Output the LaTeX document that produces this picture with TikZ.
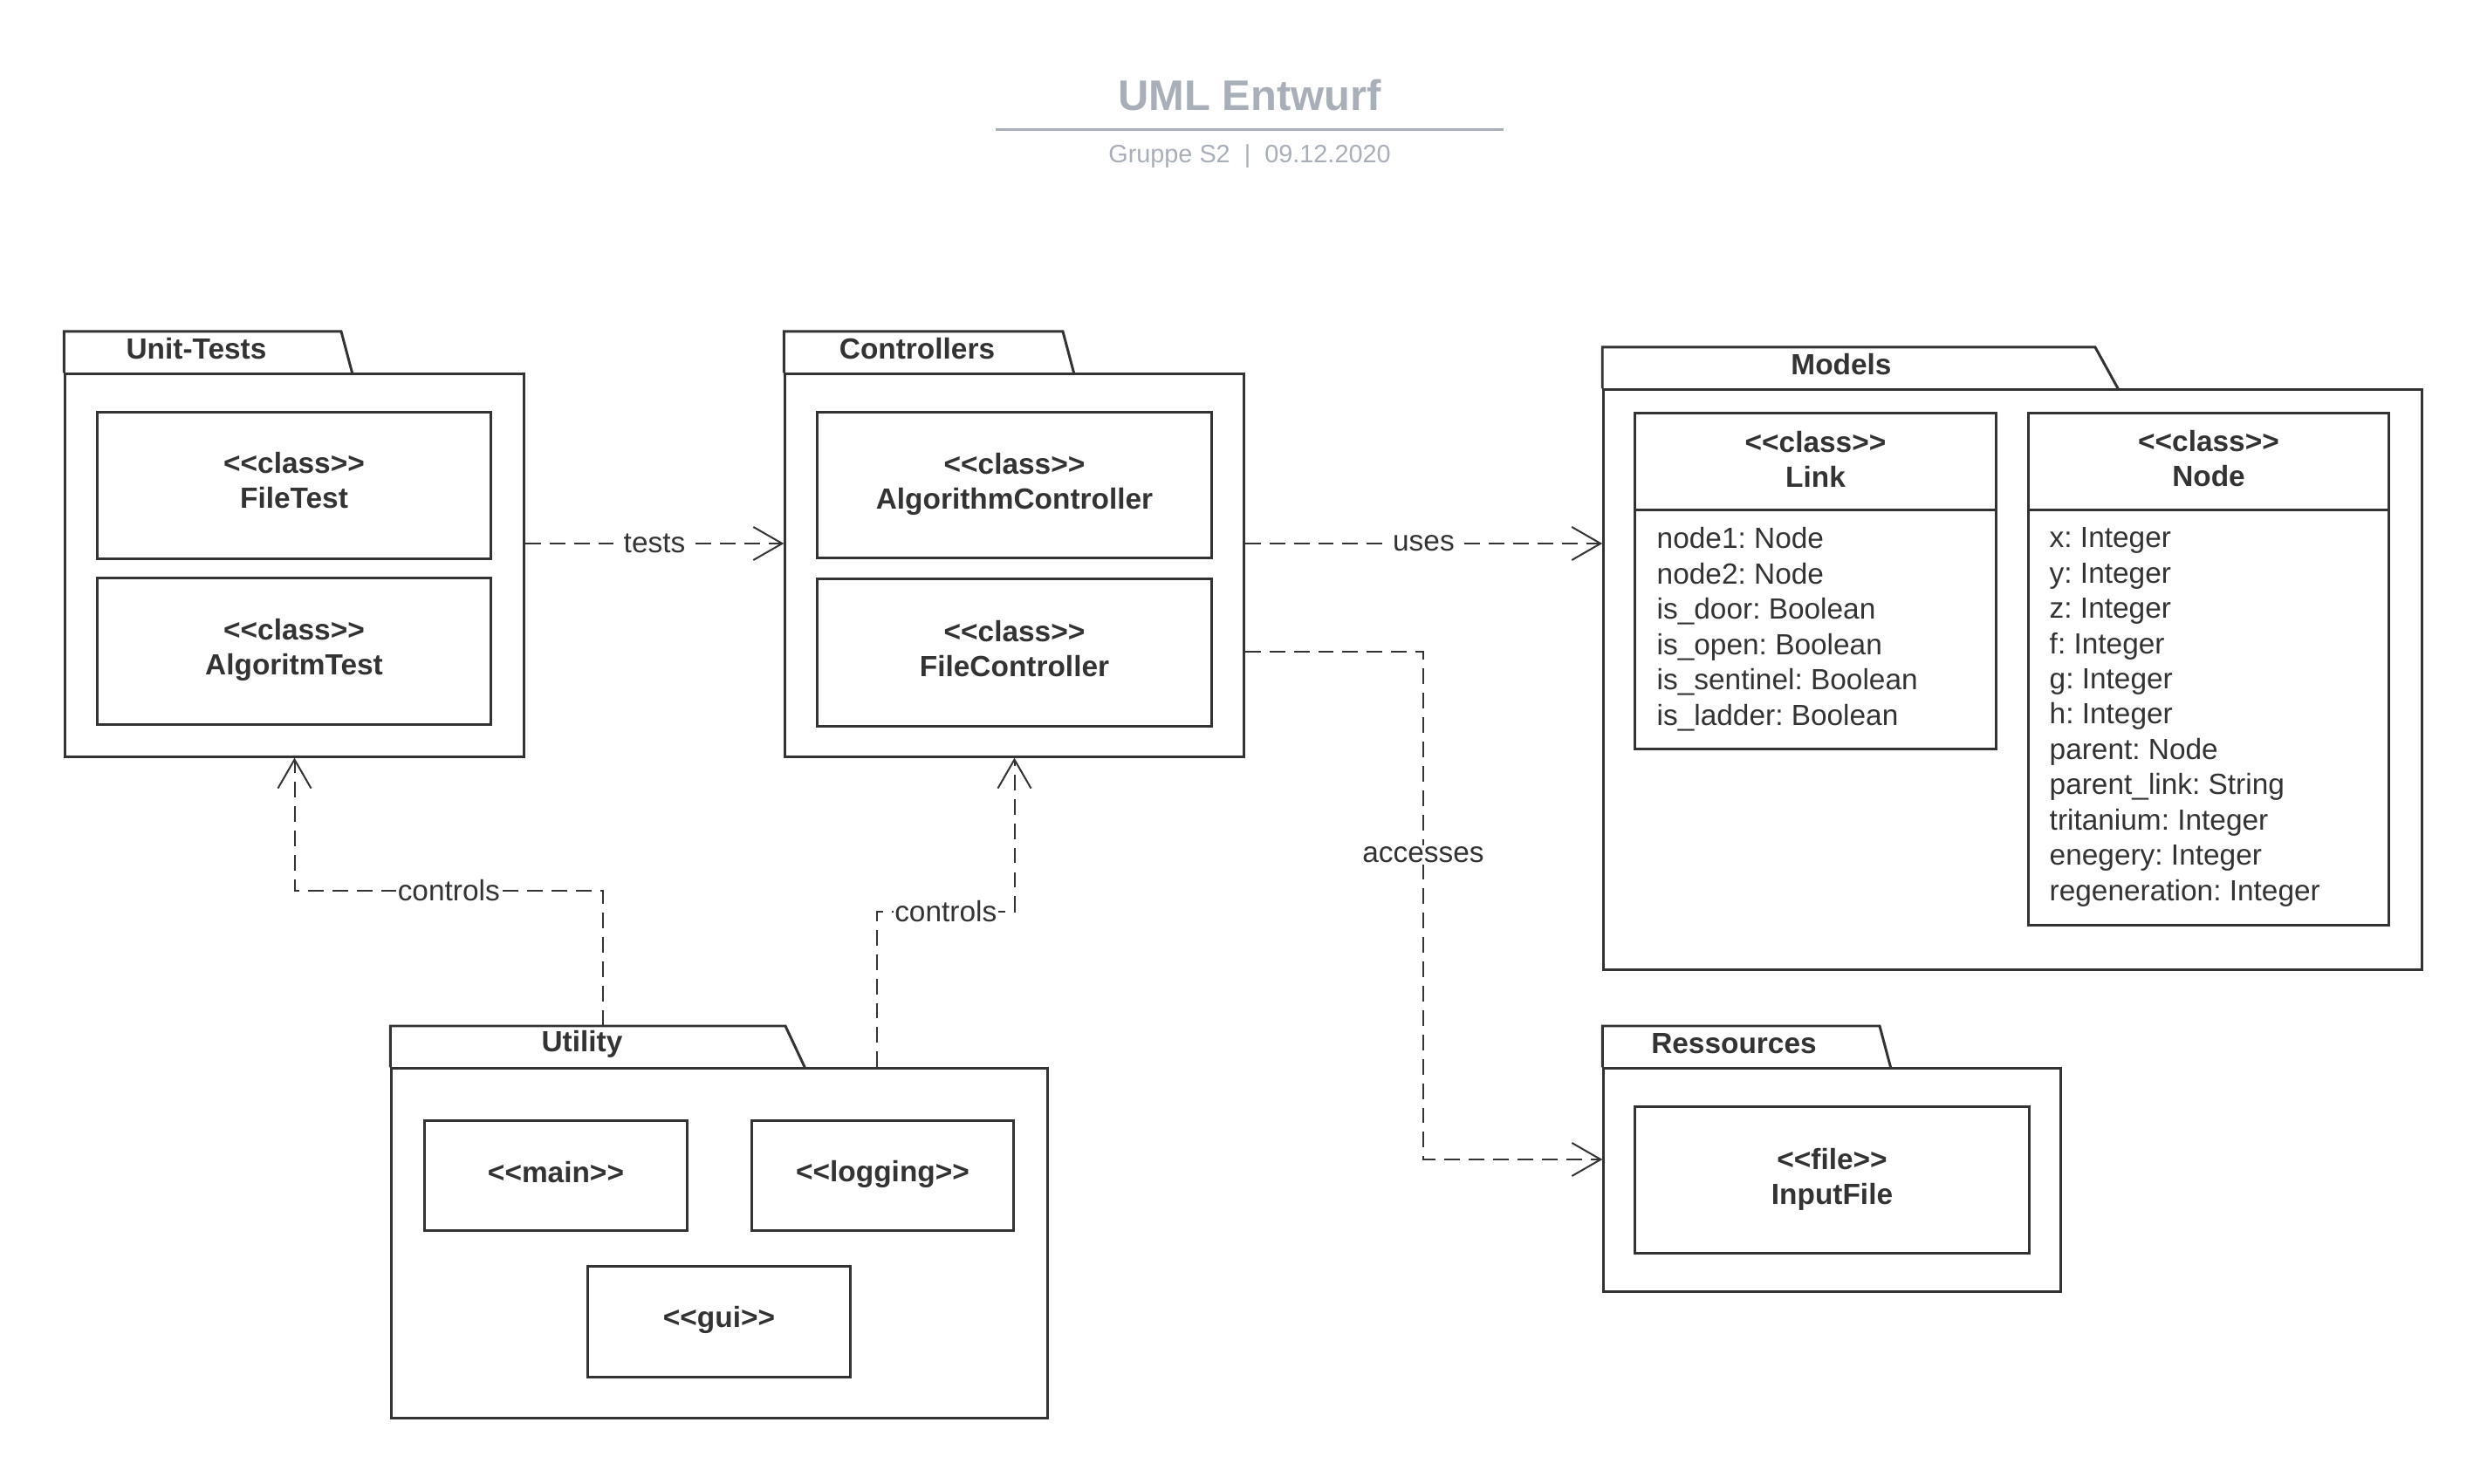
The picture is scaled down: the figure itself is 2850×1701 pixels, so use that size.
\documentclass[tikz,border=0pt]{standalone}
\usepackage{fontspec}
\setmainfont{Liberation Sans}
\frenchspacing
\usetikzlibrary{arrows.meta,positioning}
\definecolor{umlgray}{HTML}{333333}
\definecolor{headgray}{HTML}{A9AFB9}
\newcommand{\stereo}[1]{<\kern0pt<#1>\kern0pt>}

\begin{document}
\begin{tikzpicture}[x=0.01cm, y=-0.01cm,
    every node/.style={font=\fontsize{9.5}{11.5}\selectfont, text=umlgray},
    pkg/.style={draw=umlgray, line width=0.85pt, inner sep=0pt},
    pkgtab/.style={draw=umlgray, line width=0.85pt},
    pkgname/.style={font=\fontsize{9.5}{11.5}\selectfont\bfseries},
    clstext/.style={inner sep=0pt, align=center, font=\fontsize{9.5}{11.4}\selectfont\bfseries},
    attrs/.style={anchor=north west, inner sep=0pt, align=left},
    dep/.style={draw=umlgray, line width=0.57pt, dash pattern=on 5.1pt off 2.85pt, -{Straight Barb[length=0.33cm, width=0.38cm]}},
    deplabel/.style={fill=white, inner sep=0.5pt}]
  \useasboundingbox (0,0) rectangle (2850,1701);

  % title
  \node[anchor=base, text=headgray, font=\fontsize{13.9}{16}\selectfont\bfseries] (title) at (1432,127) {UML Entwurf};
  \draw[headgray, line width=0.85pt] (1141,149) -- (1723,149);
  \node[anchor=base, text=headgray, font=\fontsize{8.2}{10}\selectfont] (subtitle) at (1432,187) {Gruppe S2~~|~~09.12.2020};

  % Unit-Tests
  \node[pkg, minimum width=5.25cm, minimum height=4.38cm] (unittests) at (337.5,648) {};
  \draw[pkgtab] (unittests.north west) |- (391,380) -- (404,429);
  \node[pkgname] (unittests-name) at (225,400) {Unit-Tests};
  \node[pkg, minimum width=4.5cm, minimum height=1.67cm] (filetest) at (337,556.5) {};
  \node[clstext] (filetest-text) at (337,551) {\stereo{class}\\FileTest};
  \node[pkg, minimum width=4.5cm, minimum height=1.67cm] (algotest) at (337,746.5) {};
  \node[clstext] (algotest-text) at (337,745) {\stereo{class}\\AlgoritmTest};

  % Controllers
  \node[pkg, minimum width=5.25cm, minimum height=4.38cm] (controllers) at (1162.5,648) {};
  \draw[pkgtab] (controllers.north west) |- (1218,380) -- (1231,429);
  \node[pkgname] (controllers-name) at (1051,400) {Controllers};
  \node[pkg, minimum width=4.51cm, minimum height=1.66cm] (algoctrl) at (1162.5,556) {};
  \node[clstext] (algoctrl-text) at (1162.5,554.5) {\stereo{class}\\AlgorithmController};
  \node[pkg, minimum width=4.51cm, minimum height=1.68cm] (filectrl) at (1162.5,748) {};
  \node[clstext] (filectrl-text) at (1162.5,743.5) {\stereo{class}\\FileController};

  % Models
  \node[pkg, minimum width=9.37cm, minimum height=6.64cm] (models) at (2306.5,779) {};
  \draw[pkgtab] (models.north west) |- (2401,398) -- (2428,447);
  \node[pkgname] (models-name) at (2110,418) {Models};
  \node[pkg, minimum width=4.13cm, minimum height=3.84cm] (link) at (2080.5,666) {};
  \draw[pkgtab] (link.west |- 0,585) -- (link.east |- 0,585);
  \node[clstext] (link-head) at (2080.5,526) {\stereo{class}\\Link};
  \node[attrs] (link-attrs) at (1898,604) {node1: Node\\node2: Node\\is\_door: Boolean\\is\_open: Boolean\\is\_sentinel: Boolean\\is\_ladder: Boolean};
  \node[pkg, minimum width=4.12cm, minimum height=5.86cm] (node) at (2531,767) {};
  \draw[pkgtab] (node.west |- 0,585) -- (node.east |- 0,585);
  \node[clstext] (node-head) at (2531,526) {\stereo{class}\\Node};
  \node[attrs] (node-attrs) at (2348,604) {x: Integer\\y: Integer\\z: Integer\\f: Integer\\g: Integer\\h: Integer\\parent: Node\\parent\_link: String\\tritanium: Integer\\enegery: Integer\\regeneration: Integer};

  % Ressources
  \node[pkg, minimum width=5.23cm, minimum height=2.55cm] (ressources) at (2099.5,1352.5) {};
  \draw[pkgtab] (ressources.north west) |- (2154,1176) -- (2167,1225);
  \node[pkgname] (ressources-name) at (1987,1196) {Ressources};
  \node[pkg, minimum width=4.51cm, minimum height=1.67cm] (inputfile) at (2099.5,1352.5) {};
  \node[clstext] (inputfile-text) at (2099.5,1351.5) {\stereo{file}\\InputFile};

  % Utility
  \node[pkg, minimum width=7.51cm, minimum height=4cm] (utility) at (824.5,1425) {};
  \draw[pkgtab] (utility.north west) |- (900,1176) -- (923,1225);
  \node[pkgname] (utility-name) at (667,1197) {Utility};
  \node[pkg, minimum width=3cm, minimum height=1.25cm] (main) at (637,1347.5) {};
  \node[clstext] (main-text) at (637,1343.5) {\stereo{main}};
  \node[pkg, minimum width=2.99cm, minimum height=1.25cm] (logging) at (1011.5,1347.5) {};
  \node[clstext] (logging-text) at (1011.5,1345.5) {\stereo{logging}};
  \node[pkg, minimum width=3cm, minimum height=1.26cm] (gui) at (824,1515) {};
  \node[clstext] (gui-text) at (824,1513) {\stereo{gui}};
  \coordinate (utility-tab) at (691,1176);

  % dependencies
  \draw[dep] (unittests.east |- 0,623) -- node[deplabel] {tests} (controllers.west |- 0,623);
  \draw[dep] (controllers.east |- 0,623) -- node[deplabel] {uses} (models.west |- 0,623);
  \draw[dep] (controllers.east |- 0,747) -- (1631,747) -- node[pos=0.4, deplabel] {accesses} (1631,1329) -- (ressources.west |- 0,1329);
  \draw[dep] (utility-tab) |- node[pos=0.75, deplabel] {controls} (unittests.south |- 0,1021) -- (unittests.south);
  \draw[dep] (utility.north -| 1005,0) |- node[pos=0.75, deplabel] {controls} (controllers.south |- 0,1045) -- (controllers.south);
\end{tikzpicture}
\end{document}
